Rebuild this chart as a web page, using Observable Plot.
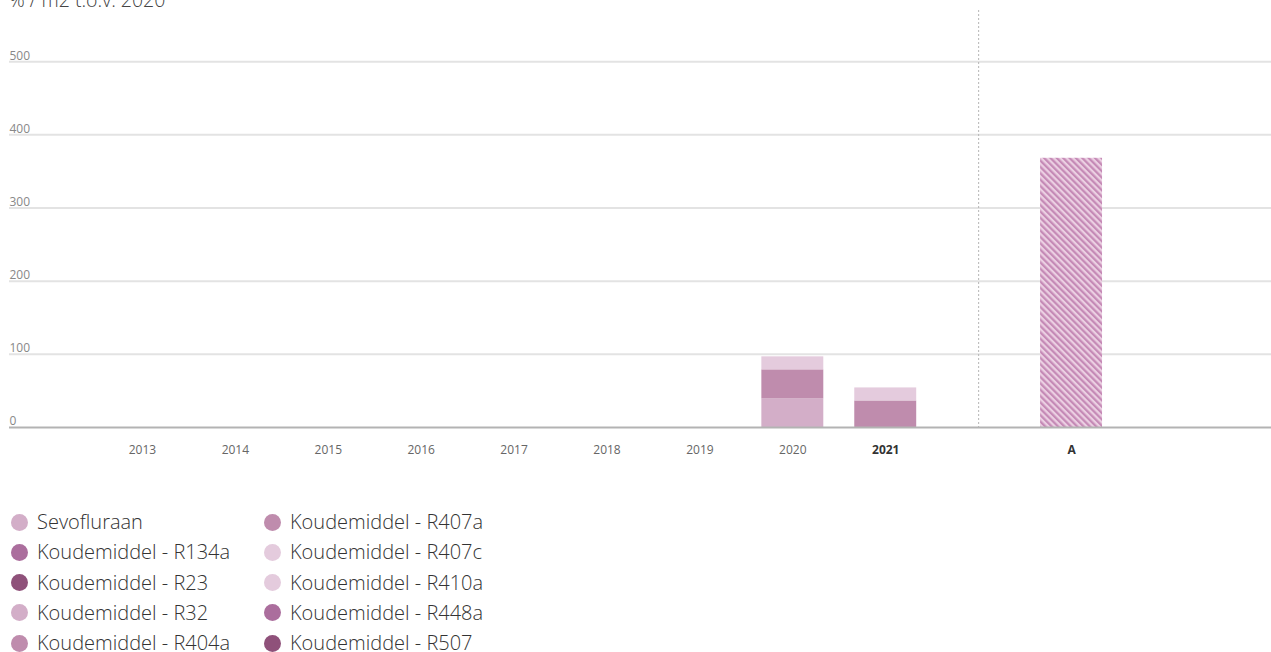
<!DOCTYPE html>
<html><head><meta charset="utf-8">
<script src="https://cdn.jsdelivr.net/npm/d3@7"></script>
<script src="https://cdn.jsdelivr.net/npm/@observablehq/plot@0.6"></script>
<style>
body{margin:0;background:#fff;font-family:"Open Sans",sans-serif;}
#wrap{position:relative;width:1271px;height:652px;overflow:hidden;}
#chart{position:absolute;left:0;top:0;}
#title{position:absolute;left:9px;top:-10px;font-size:19.5px;line-height:19.5px;color:#444;font-weight:300;white-space:nowrap;}
#legend{position:absolute;left:11px;top:507px;display:grid;grid-auto-flow:column;grid-template-rows:repeat(5,30.25px);grid-template-columns:253px 253px;}
.item{display:flex;align-items:center;font-size:20px;line-height:18px;color:#333;font-weight:300;white-space:nowrap;}
.sw{width:17px;height:17px;border-radius:50%;margin-right:9px;flex:none;}
</style></head><body>
<div id="wrap"><div id="chart"></div><div id="title">% / m2 t.o.v. 2020</div><div id="legend"></div></div>
<script>
const years = ["2013","2014","2015","2016","2017","2018","2019","2020","2021"];
const targetLabel = "A";
const targetValue = 368;
const seriesNames = ["Sevofluraan","Koudemiddel - R134a","Koudemiddel - R23","Koudemiddel - R32","Koudemiddel - R404a","Koudemiddel - R407a","Koudemiddel - R407c","Koudemiddel - R410a","Koudemiddel - R448a","Koudemiddel - R507"];
const seriesColors = ["#d3aec8","#ab6e9d","#8f517a","#d3aec8","#bf8cad","#bf8cad","#e4cbdd","#e4cbdd","#ab6e9d","#8f517a"];
const valYear = ["2020","2020","2020","2021","2021"];
const valSeries = ["Sevofluraan","Koudemiddel - R404a","Koudemiddel - R410a","Koudemiddel - R404a","Koudemiddel - R410a"];
const valValue = [39.0, 39.8, 17.8, 36.3, 17.8];
const yTicks = [0,100,200,300,400,500];
const boldTicks = ["2021","A"];

const data = valYear.map((y,i)=>({year:y, series:valSeries[i], value:valValue[i]}));
const sep = " ";
const xDomain = [...years, sep, targetLabel];
const font = '"Open Sans",sans-serif';

const chart = Plot.plot({
  width:1271, height:470, marginLeft:9, marginRight:0, marginTop:10, marginBottom:43,
  style:{fontFamily:font, background:"transparent", overflow:"visible"},
  x:{type:"band", domain:xDomain, range:[80,1133], padding:1/3, round:false, label:null},
  y:{domain:[0,570], label:null},
  color:{domain:seriesNames, range:seriesColors},
  marks:[
    Plot.ruleY(yTicks.filter(d=>d>0), {stroke:"#e3e3e3", strokeWidth:2}),
    Plot.axisY(yTicks, {tickSize:0, tickPadding:0, textAnchor:"start", dy:-6, fill:"#888", fontSize:12, label:null}),
    Plot.ruleX([sep], {stroke:"#b5b5b5", strokeDasharray:"2,2"}),
    Plot.barY(data, {x:"year", y:"value", fill:"series", order:seriesNames}),
    Plot.barY([{x:targetLabel, value:targetValue}], {x:"x", y:"value", fill:"url(#hatch)"}),
    Plot.ruleY([0], {stroke:"#b3b3b3", strokeWidth:2}),
    Plot.axisX(years.filter(y=>!boldTicks.includes(y)), {tickSize:0, tickPadding:18, fill:"#666", fontSize:12, label:null}),
    Plot.axisX(boldTicks, {tickSize:0, tickPadding:18, fill:"#333", fontSize:12, fontWeight:"bold", label:null})
  ]
});
document.getElementById("chart").appendChild(chart);
const svg = d3.select(chart.tagName.toLowerCase()==="svg" ? chart : chart.querySelector("svg"));
const defs = svg.insert("defs", ":first-child");
const pat = defs.append("pattern").attr("id","hatch").attr("patternUnits","userSpaceOnUse")
  .attr("width",4.5).attr("height",4.5).attr("patternTransform","rotate(-45)");
pat.append("rect").attr("width",4.5).attr("height",4.5).attr("fill","#ebcfe2");
pat.append("rect").attr("width",2.25).attr("height",4.5).attr("fill","#c58ab6");

const legend = d3.select("#legend");
seriesNames.forEach((n,i)=>{
  const it = legend.append("div").attr("class","item");
  it.append("span").attr("class","sw").style("background", seriesColors[i]);
  it.append("span").text(n);
});
</script>
</body></html>
